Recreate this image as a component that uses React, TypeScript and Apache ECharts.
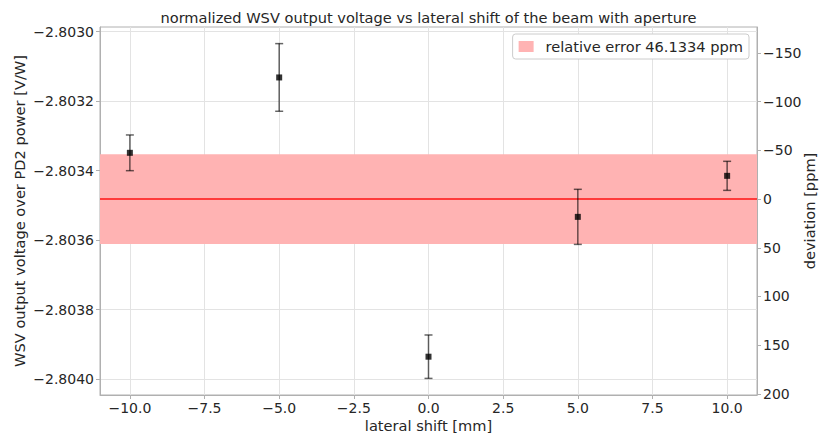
import React, { useEffect, useRef } from "react";
import * as echarts from "echarts";

const shifts = [-10, -5, 0, 5, 10];
const voltages = [-2.8033487, -2.8031317, -2.8039357, -2.8035331, -2.803415];
const errors = [0.0000514, 0.0000974, 0.0000625, 0.0000793, 0.0000418];
const meanVoltage = -2.803482;
const relErrorPpm = 46.1334;
const xTicks = [-10, -7.5, -5, -2.5, 0, 2.5, 5, 7.5, 10];
const yTicks = [-2.803, -2.8032, -2.8034, -2.8036, -2.8038, -2.804];
const ppmTicks = [-150, -100, -50, 0, 50, 100, 150, 200];
const xRange = [-11, 11];
const yRange = [-2.804046, -2.80298645];

const FONT = "DejaVu Sans";
const TXT = "#262626";
const TICK_FS = 14;
const LABEL_FS = 14.6;
const minus = (s: string) => s.replace("-", "\u2212");

export default function App() {
  const ref = useRef<HTMLDivElement>(null);
  useEffect(() => {
    const chart = echarts.init(ref.current!, undefined, { renderer: "svg" });
    const toPpm = (v: number) => ((meanVoltage - v) / Math.abs(meanVoltage)) * 1e6;
    const bandHalf = Math.abs(meanVoltage) * relErrorPpm * 1e-6;
    const axisLine = { show: true, onZero: false, lineStyle: { color: "#b0b0b0", width: 1 } };
    const axisTick = (vals: number[]) => ({
      show: true,
      length: 4,
      lineStyle: { color: "#b0b0b0" },
      customValues: vals,
    });
    chart.setOption({
      animation: false,
      backgroundColor: "#ffffff",
      grid: {
        left: 100,
        right: 62,
        top: 27,
        bottom: 39,
        show: true,
        borderColor: "#b0b0b0",
        borderWidth: 1,
        containLabel: false,
        outerBoundsMode: "none",
      },
      graphic: [
        {
          type: "text",
          x: 428.5,
          y: 17,
          style: {
            text: "normalized WSV output voltage vs lateral shift of the beam with aperture",
            font: `${LABEL_FS}px '${FONT}'`,
            fill: TXT,
            textAlign: "center",
            textVerticalAlign: "middle",
          },
        },
      ],
      legend: {
        right: 70,
        top: 34,
        data: ["relative error 46.1334 ppm"],
        icon: "rect",
        itemWidth: 15,
        itemHeight: 11,
        padding: [5, 6, 5, 6],
        borderColor: "#cccccc",
        borderWidth: 1,
        borderRadius: 3,
        backgroundColor: "#ffffff",
        textStyle: { fontFamily: FONT, fontSize: LABEL_FS, color: TXT, padding: [0, 0, 0, 7] },
      },
      xAxis: {
        type: "value",
        min: xRange[0],
        max: xRange[1],
        name: "lateral shift [mm]",
        nameLocation: "middle",
        nameGap: 23,
        nameMoveOverlap: false,
        nameTextStyle: { fontFamily: FONT, fontSize: LABEL_FS, color: TXT },
        axisLine,
        axisTick: axisTick(xTicks),
        axisLabel: {
          customValues: xTicks,
          margin: 6,
          fontFamily: FONT,
          fontSize: TICK_FS,
          color: TXT,
          formatter: (v: number) => minus(v.toFixed(1)),
        },
        splitLine: { show: true, lineStyle: { color: "#e3e3e3", width: 1 } },
      },
      yAxis: [
        {
          type: "value",
          min: yRange[0],
          max: yRange[1],
          name: "WSV output voltage over PD2 power [V/W]",
          nameLocation: "middle",
          nameGap: 73,
          nameMoveOverlap: false,
          nameTextStyle: { fontFamily: FONT, fontSize: LABEL_FS, color: TXT },
          axisLine,
          axisTick: axisTick(yTicks),
          axisLabel: {
            customValues: yTicks,
            margin: 6,
            fontFamily: FONT,
            fontSize: TICK_FS,
            color: TXT,
            formatter: (v: number) => minus(v.toFixed(4)),
          },
          splitLine: { show: true, lineStyle: { color: "#e3e3e3", width: 1 } },
        },
        {
          type: "value",
          position: "right",
          inverse: true,
          min: toPpm(yRange[1]),
          max: toPpm(yRange[0]),
          name: "deviation [ppm]",
          nameLocation: "middle",
          nameRotate: 90,
          nameGap: 45,
          nameMoveOverlap: false,
          nameTextStyle: { fontFamily: FONT, fontSize: LABEL_FS, color: TXT },
          axisLine,
          axisTick: axisTick(ppmTicks),
          axisLabel: {
            customValues: ppmTicks,
            margin: 6,
            fontFamily: FONT,
            fontSize: TICK_FS,
            color: TXT,
            formatter: (v: number) => minus(String(Math.round(v))),
          },
          splitLine: { show: false },
        },
      ],
      series: [
        {
          name: "relative error 46.1334 ppm",
          type: "line",
          z: 1,
          data: [],
          color: "#ffb3b3",
          markArea: {
            silent: true,
            itemStyle: { color: "#ffb3b3", opacity: 1 },
            data: [[{ yAxis: meanVoltage + bandHalf }, { yAxis: meanVoltage - bandHalf }]],
          },
        },
        {
          name: "mean",
          type: "line",
          z: 2,
          symbol: "none",
          silent: true,
          lineStyle: { color: "#ff3b3b", width: 2 },
          data: [
            [xRange[0], meanVoltage],
            [xRange[1], meanVoltage],
          ],
        },
        {
          name: "errbars",
          type: "custom",
          z: 3,
          data: shifts.map((x, i) => [x, voltages[i], errors[i]]),
          renderItem: (params: any, api: any) => {
            const x = api.value(0);
            const y = api.value(1);
            const e = api.value(2);
            const top = api.coord([x, y + e]);
            const bot = api.coord([x, y - e]);
            const cw = 4;
            const st = { stroke: "rgba(0,0,0,0.6)", lineWidth: 1.5 };
            return {
              type: "group",
              children: [
                { type: "line", shape: { x1: top[0], y1: top[1], x2: bot[0], y2: bot[1] }, style: st },
                { type: "line", shape: { x1: top[0] - cw, y1: top[1], x2: top[0] + cw, y2: top[1] }, style: st },
                { type: "line", shape: { x1: bot[0] - cw, y1: bot[1], x2: bot[0] + cw, y2: bot[1] }, style: st },
              ],
            };
          },
        },
        {
          name: "points",
          type: "scatter",
          z: 4,
          symbol: "rect",
          symbolSize: 6,
          itemStyle: { color: "#000000" },
          data: shifts.map((x, i) => [x, voltages[i]]),
        },
      ],
    });
    return () => chart.dispose();
  }, []);
  return <div ref={ref} style={{ width: 819, height: 434, position: "absolute", left: 0, top: 0 }} />;
}
